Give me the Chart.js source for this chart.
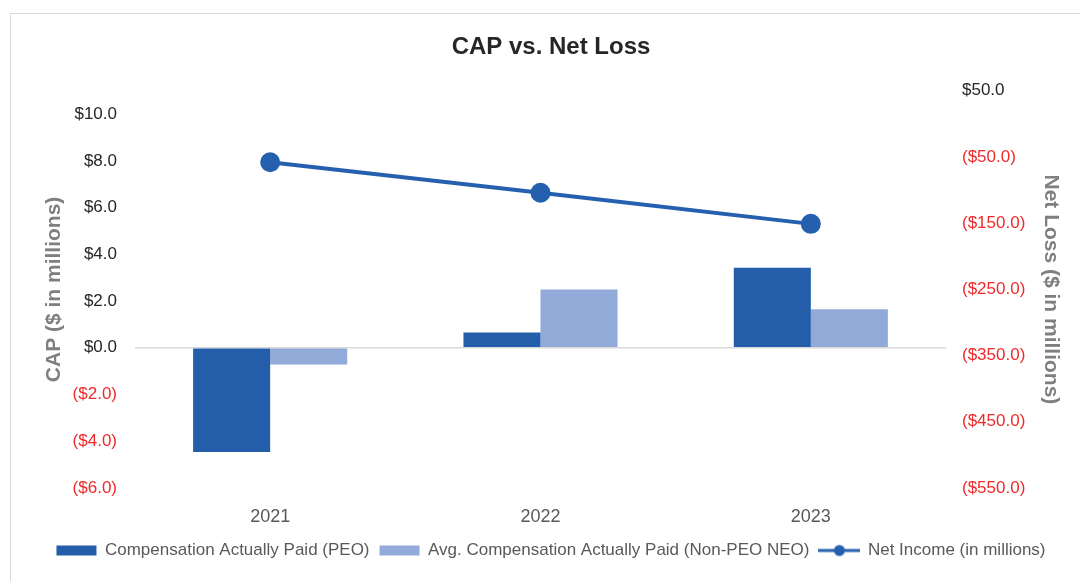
<!DOCTYPE html>
<html>
<head>
<meta charset="utf-8">
<script src="https://cdn.jsdelivr.net/npm/chart.js@4"></script>
<style>
  html, body { margin: 0; padding: 0; background: #fff; overflow: hidden; }
  #frame { position: absolute; left: 10px; top: 13px; width: 1200px; height: 700px; border: 1px solid #d9d9d9; }
  #wrap { position: absolute; left: 0; top: 0; width: 1080px; height: 581px; }
</style>
</head>
<body>
<div id="frame"></div>
<div id="wrap"><canvas id="cap-chart" width="1080" height="581"></canvas></div>
<script>
// data
var years = ["2021", "2022", "2023"];
var capPeo = [-4.46, 0.66, 3.43];
var capNeo = [-0.71, 2.5, 1.65];
var netIncome = [-58, -104, -151];
var leftTicks = [-6, -4, -2, 0, 2, 4, 6, 8, 10];
var rightTicks = [-550, -450, -350, -250, -150, -50, 50];

var FONT = '"Liberation Sans", Arial, sans-serif';
var darkBlue = "#245EAA";
var lightBlue = "#91AAD8";
var lineBlue = "#2560AE";
var red = "#f02a2a";

function money(v) {
    var s = "$" + Math.abs(v).toFixed(1);
    return v < 0 ? "(" + s + ")" : s;
}

// small picture for the line entry of the legend
var lineIcon = document.createElement("canvas");
lineIcon.width = 42; lineIcon.height = 14;
var ic = lineIcon.getContext("2d");
ic.strokeStyle = lineBlue; ic.lineWidth = 3;
ic.beginPath(); ic.moveTo(0, 7); ic.lineTo(42, 7); ic.stroke();
ic.fillStyle = lineBlue;
ic.beginPath(); ic.arc(21, 7, 5.5, 0, Math.PI * 2); ic.fill();

var ctx = document.getElementById("cap-chart");
var chart = new Chart(ctx, {
    type: "bar",
    data: {
        labels: years,
        datasets: [{
            label: "Compensation Actually Paid (PEO)",
            data: capPeo,
            backgroundColor: darkBlue,
            yAxisID: "y",
            barPercentage: 1,
            categoryPercentage: 0.57
        }, {
            label: "Avg. Compensation Actually Paid (Non-PEO NEO)",
            data: capNeo,
            backgroundColor: lightBlue,
            yAxisID: "y",
            barPercentage: 1,
            categoryPercentage: 0.57
        }, {
            type: "line",
            label: "Net Income (in millions)",
            data: netIncome,
            yAxisID: "y1",
            borderColor: lineBlue,
            backgroundColor: lineBlue,
            borderWidth: 4,
            pointRadius: 8,
            pointHoverRadius: 8,
            tension: 0
        }]
    },
    options: {
        responsive: false,
        animation: false,
        // left padding shifts the title/legend centre to match the wider frame
        layout: { padding: { left: 22, right: 0, top: 0, bottom: 12 } },
        plugins: {
            tooltip: { enabled: false },
            title: {
                display: true,
                text: "CAP vs. Net Loss",
                color: "#262626",
                font: { family: FONT, size: 24, weight: "bold" },
                padding: { top: 33, bottom: 29 }
            },
            legend: {
                position: "bottom",
                labels: {
                    usePointStyle: true,
                    pointStyleWidth: 40,
                    boxHeight: 10,
                    color: "#595959",
                    font: { family: FONT, size: 17 },
                    padding: 10,
                    generateLabels: function (c) {
                        return c.data.datasets.map(function (ds, i) {
                            var isLine = ds.type === "line";
                            return {
                                text: ds.label,
                                fillStyle: ds.backgroundColor,
                                strokeStyle: ds.backgroundColor,
                                lineWidth: 0,
                                pointStyle: isLine ? lineIcon : "rect",
                                fontColor: "#595959",
                                datasetIndex: i
                            };
                        });
                    }
                }
            }
        },
        scales: {
            x: {
                grid: { display: false },
                border: { display: false },
                ticks: { color: "#595959", font: { family: FONT, size: 18 }, padding: 10 },
                afterFit: function (s) { s.height = 44; }
            },
            y: {
                position: "left",
                min: -6,
                max: 11,
                afterBuildTicks: function (s) {
                    s.ticks = leftTicks.map(function (v) { return { value: v }; });
                },
                afterFit: function (s) { s.width = 113; },
                grid: {
                    drawTicks: false,
                    lineWidth: 1.5,
                    color: function (c) { return c.tick && c.tick.value === 0 ? "#d9d9d9" : "rgba(0,0,0,0)"; }
                },
                border: { display: false },
                ticks: {
                    padding: 18,
                    font: { family: FONT, size: 17 },
                    color: function (c) { return c.tick.value < 0 ? red : "#262626"; },
                    callback: function (v) { return money(v); }
                },
                title: {
                    display: true,
                    text: "CAP ($ in millions)",
                    color: "#7f7f7f",
                    font: { family: FONT, size: 21, weight: "bold" },
                    padding: { top: 20, bottom: 0 }
                }
            },
            y1: {
                position: "right",
                min: -550,
                max: 50,
                afterBuildTicks: function (s) {
                    s.ticks = rightTicks.map(function (v) { return { value: v }; });
                },
                afterFit: function (s) { s.width = 134; },
                grid: { display: false, drawTicks: false },
                border: { display: false },
                ticks: {
                    padding: 16,
                    font: { family: FONT, size: 17 },
                    color: function (c) { return c.tick.value < 0 ? red : "#262626"; },
                    callback: function (v) { return money(v); }
                },
                title: {
                    display: true,
                    text: "Net Loss ($ in millions)",
                    color: "#7f7f7f",
                    font: { family: FONT, size: 21, weight: "bold" },
                    padding: { top: 17, bottom: 0 }
                }
            }
        }
    }
});
</script>
</body>
</html>
